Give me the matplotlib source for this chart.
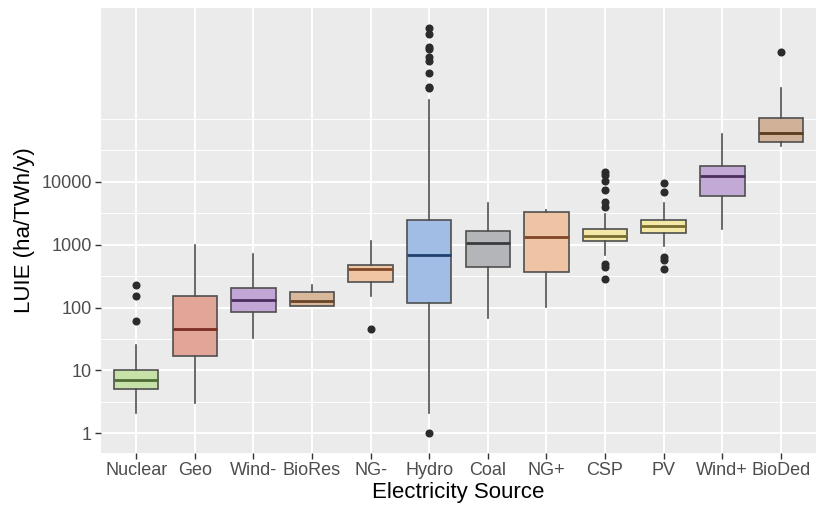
import numpy as np
import matplotlib.pyplot as plt
from matplotlib.ticker import FixedLocator, NullFormatter

plt.rcParams['font.family'] = ['Liberation Sans', 'DejaVu Sans']

# ------------------------------------------------------------
# Data (ha/TWh/y)
# ------------------------------------------------------------
sources = ["Nuclear", "Geo", "Wind-", "BioRes", "NG-", "Hydro",
           "Coal", "NG+", "CSP", "PV", "Wind+", "BioDed"]

whisker_low = [2.1, 3.0, 33, 104, 151, 2.1, 69, 103, 684, 960, 1750, 37400]
q1 = [5.0, 16.7, 86, 104, 252, 117, 446, 362, 1140, 1550, 6000, 42600]
median = [7.1, 46, 132, 128, 414, 690, 1047, 1336, 1370, 1980, 12300, 60200]
q3 = [10.0, 154, 204, 174, 474, 2460, 1645, 3330, 1770, 2460, 17900, 102000]
whisker_high = [25, 985, 707, 230, 1140, 200000, 4540, 3550, 3030, 4640, 57300, 305000]

outliers = [
    [62, 154, 229],
    [],
    [],
    [],
    [46],
    [1.0, 305000, 320000, 530000, 840000, 950000, 1270000, 1400000, 2200000, 2750000],
    [],
    [],
    [280, 444, 486, 4000, 4800, 7400, 10200, 12700, 14400],
    [405, 570, 640, 6860, 9640],
    [],
    [1150000],
]

fill_colors = ["#c7e2a8", "#e2a698", "#c2a7d6", "#d8b89b", "#f0c5a4", "#a2bde5",
               "#b4b5b9", "#eec4a4", "#f3e8a6", "#f3e8a6", "#c2a9d6", "#d1b197"]
median_colors = ["#4d6b35", "#7a2c22", "#4b2d5e", "#6b4426", "#80492a", "#22406f",
                 "#3a3b3e", "#7e4626", "#7a6c2e", "#7a6c2e", "#4b2d5e", "#5c3a1c"]


def main():
    fig = plt.figure(figsize=(8.16, 5.05), dpi=100)
    ax = fig.add_axes([0.1238, 0.103, 0.8762, 0.881])
    ax.set_facecolor("#ebebeb")

    stats = []
    for i, name in enumerate(sources):
        stats.append(dict(label=name, whislo=whisker_low[i], q1=q1[i], med=median[i],
                          q3=q3[i], whishi=whisker_high[i], fliers=outliers[i]))

    positions = np.arange(1, len(sources) + 1)
    bp = ax.bxp(stats, positions=positions, widths=0.76, patch_artist=True,
                showcaps=False, zorder=3,
                boxprops=dict(edgecolor="#4f4f4f", linewidth=1.2),
                whiskerprops=dict(color="#4f4f4f", linewidth=1.2),
                flierprops=dict(marker="o", markerfacecolor="#2b2b2b",
                                markeredgecolor="#2b2b2b", markersize=4.8),
                medianprops=dict(linewidth=2.0, solid_capstyle="butt"))
    for box, fc in zip(bp["boxes"], fill_colors):
        box.set_facecolor(fc)
    for med, mc in zip(bp["medians"], median_colors):
        med.set_color(mc)

    ax.set_yscale("log")
    ax.set_ylim(0.486, 5.78e6)
    ax.set_xlim(0.4, 12.6)

    major_y = [1, 10, 100, 1000, 10000]
    ax.yaxis.set_major_locator(FixedLocator(major_y))
    ax.set_yticklabels([str(v) for v in major_y])
    ax.yaxis.set_minor_locator(FixedLocator([10 ** (k + 0.5) for k in range(-1, 5)] + [1e5]))
    ax.yaxis.set_minor_formatter(NullFormatter())

    ax.set_xticks(positions)
    ax.set_xticklabels(sources)

    ax.grid(which="major", color="white", linewidth=1.4, zorder=0)
    ax.grid(which="minor", axis="y", color="white", linewidth=0.7, zorder=0)
    ax.set_axisbelow(True)

    for s in ax.spines.values():
        s.set_visible(False)
    ax.tick_params(axis="both", which="major", length=4, width=1.0, color="#333333",
                   labelcolor="#4d4d4d", labelsize=13, pad=2.5)
    ax.tick_params(axis="y", which="minor", length=0)

    ax.set_xlabel("Electricity Source", fontsize=16, color="black", labelpad=2)
    ax.set_ylabel("LUIE (ha/TWh/y)", fontsize=16, color="black", labelpad=5)

    fig.savefig("out.png", dpi=100)


if __name__ == "__main__":
    main()
